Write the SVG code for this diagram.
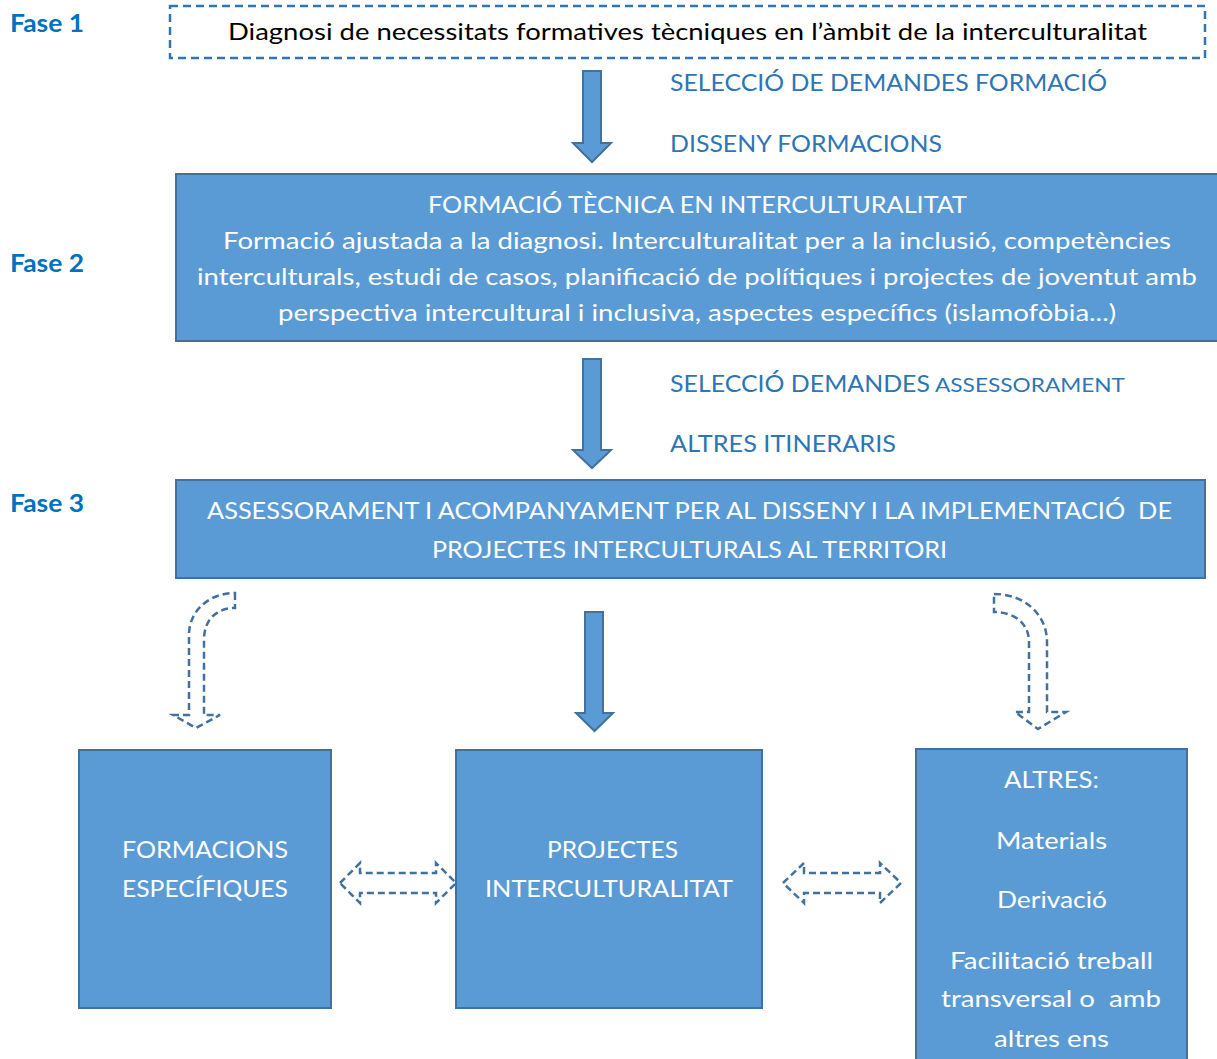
<svg xmlns="http://www.w3.org/2000/svg" width="1217" height="1059" viewBox="0 0 1217 1059">
<style>
.box{fill:#5B9BD5;stroke:#41719C;stroke-width:2}
.solid{fill:#5B9BD5;stroke:#41719C;stroke-width:2;stroke-linejoin:miter}
.dash{fill:none;stroke:#41719C;stroke-width:2.5;stroke-dasharray:7,4}
.t{font-family:Lato,"Liberation Sans",sans-serif;font-size:24px}
.w{fill:#FFFFFF}
.k{fill:#000000}
.b{fill:#2E75B6}
.fase{font-family:Lato,"Liberation Sans",sans-serif;font-size:24px;font-weight:bold;fill:#0070C0}
</style>
<rect width="1217" height="1059" fill="#FFFFFF"/>
<g id="labels-fase">
<text class="fase" x="10" y="32" textLength="74" lengthAdjust="spacingAndGlyphs">Fase 1</text>
<text class="fase" x="10" y="272" textLength="74" lengthAdjust="spacingAndGlyphs">Fase 2</text>
<text class="fase" x="10" y="512" textLength="74" lengthAdjust="spacingAndGlyphs">Fase 3</text>
</g>
<g id="node-diagnosi">
<rect x="170" y="6" width="1035" height="52" fill="none" stroke="#2E75B6" stroke-width="2.5" stroke-dasharray="8,5"/>
<text class="t k" x="228" y="40" textLength="919" lengthAdjust="spacingAndGlyphs">Diagnosi de necessitats formatives tècniques en l’àmbit de la interculturalitat</text>
</g>
<g id="node-formacio">
<rect class="box" x="176" y="174" width="1045" height="167"/>
<text class="t w" x="428" y="213" textLength="539" lengthAdjust="spacingAndGlyphs">FORMACIÓ TÈCNICA EN INTERCULTURALITAT</text>
<text class="t w" x="223" y="249" textLength="948" lengthAdjust="spacingAndGlyphs">Formació ajustada a la diagnosi. Interculturalitat per a la inclusió, competències</text>
<text class="t w" x="197" y="285" textLength="1000" lengthAdjust="spacingAndGlyphs">interculturals, estudi de casos, planificació de polítiques i projectes de joventut amb</text>
<text class="t w" x="278" y="321" textLength="838" lengthAdjust="spacingAndGlyphs">perspectiva intercultural i inclusiva, aspectes específics (islamofòbia...)</text>
</g>
<g id="node-assessorament">
<rect class="box" x="176" y="480" width="1029" height="98"/>
<text class="t w" x="207" y="519" textLength="965" lengthAdjust="spacingAndGlyphs" xml:space="preserve">ASSESSORAMENT I ACOMPANYAMENT PER AL DISSENY I LA IMPLEMENTACIÓ  DE</text>
<text class="t w" x="432" y="558" textLength="515" lengthAdjust="spacingAndGlyphs">PROJECTES INTERCULTURALS AL TERRITORI</text>
</g>
<g id="node-formacions">
<rect class="box" x="79" y="750" width="252" height="258"/>
<text class="t w" x="122" y="858" textLength="166" lengthAdjust="spacingAndGlyphs">FORMACIONS</text>
<text class="t w" x="122" y="897" textLength="166" lengthAdjust="spacingAndGlyphs">ESPECÍFIQUES</text>
</g>
<g id="node-projectes">
<rect class="box" x="456" y="750" width="306" height="258"/>
<text class="t w" x="547" y="858" textLength="131" lengthAdjust="spacingAndGlyphs">PROJECTES</text>
<text class="t w" x="485" y="897" textLength="248" lengthAdjust="spacingAndGlyphs">INTERCULTURALITAT</text>
</g>
<g id="node-altres">
<rect class="box" x="916" y="749" width="271" height="330"/>
<text class="t w" x="1004" y="788" textLength="95" lengthAdjust="spacingAndGlyphs">ALTRES:</text>
<text class="t w" x="996" y="849" textLength="111" lengthAdjust="spacingAndGlyphs">Materials</text>
<text class="t w" x="997" y="908" textLength="110" lengthAdjust="spacingAndGlyphs">Derivació</text>
<text class="t w" x="950" y="969" textLength="203" lengthAdjust="spacingAndGlyphs">Facilitació treball</text>
<text class="t w" x="941" y="1007" textLength="220" lengthAdjust="spacingAndGlyphs" xml:space="preserve">transversal o  amb</text>
<text class="t w" x="994" y="1047" textLength="115" lengthAdjust="spacingAndGlyphs">altres ens</text>
</g>
<g id="connectors">
<polygon class="solid" points="583,71 601,71 601,143 611,143 592,162 573,143 583,143"/>
<polygon class="solid" points="583,359 601,359 601,450 611,450 592,468 573,450 583,450"/>
<polygon class="solid" points="585,612 603,612 603,713 613,713 594.5,731 576,713 585,713"/>
<path class="dash" d="M235,593 L235,608 C218,608 204,618 204,640 L204,715 L220,715 L196,728 L173,715 L189,715 L189,635 C189,610 210,593 235,593 Z"/>
<path class="dash" d="M994,594 C1025,594 1047,615 1047,642 L1047,712 L1066,712 L1038,729 L1015,712 L1029,712 L1029,642 C1029,624 1015,612 994,612 Z"/>
<path class="dash" d="M340,883 L360,863 L360,873 L436,873 L436,863 L456,883 L436,903 L436,893 L360,893 L360,903 Z"/>
<path class="dash" d="M783,883 L804,863 L804,873 L880,873 L880,863 L901,883 L880,903 L880,893 L804,893 L804,903 Z"/>
<text class="t b" x="670" y="91" textLength="437" lengthAdjust="spacingAndGlyphs">SELECCIÓ DE DEMANDES FORMACIÓ</text>
<text class="t b" x="670" y="152" textLength="272" lengthAdjust="spacingAndGlyphs">DISSENY FORMACIONS</text>
<text class="t b" y="392"><tspan x="670" textLength="260" lengthAdjust="spacingAndGlyphs">SELECCIÓ DEMANDES</tspan><tspan x="935" style="font-size:20px" textLength="190" lengthAdjust="spacingAndGlyphs">ASSESSORAMENT</tspan></text>
<text class="t b" x="670" y="452" textLength="226" lengthAdjust="spacingAndGlyphs">ALTRES ITINERARIS</text>
</g>
</svg>
